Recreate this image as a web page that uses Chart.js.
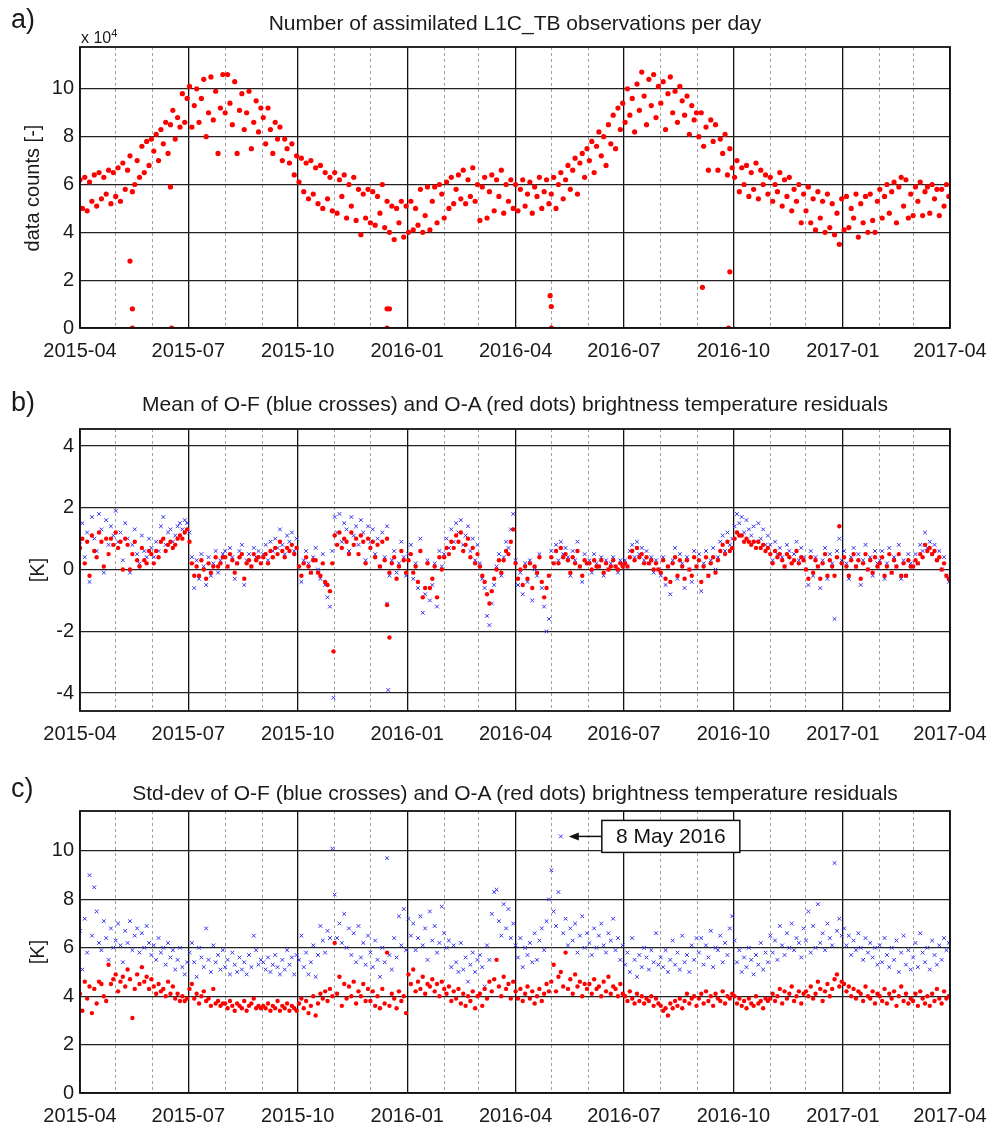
<!DOCTYPE html>
<html>
<head>
<meta charset="utf-8">
<script src="https://cdn.jsdelivr.net/npm/chart.js@4.4.0/dist/chart.umd.min.js"></script>
<style>
  body { margin: 0; width: 992px; height: 1129px; position: relative; overflow: hidden; background: #fff;
         font-family: "Liberation Sans", Arial, sans-serif; color: #1a1a1a; }
  canvas { position: absolute; left: 0; }
  .lbl { position: absolute; white-space: nowrap; }
  .ttl { position: absolute; left: 80px; width: 870px; text-align: center; font-size: 21px; line-height: 21px; white-space: nowrap; }
  .panel { font-size: 27px; line-height: 27px; left: 11px; }
  .ylab { font-size: 20px; line-height: 20px; transform: translate(-50%, -50%) rotate(-90deg); }
</style>
</head>
<body>
<canvas id="chartA" width="992" height="369" style="top:0"></canvas>
<canvas id="chartB" width="992" height="347" style="top:405px"></canvas>
<canvas id="chartC" width="992" height="339" style="top:790px"></canvas>

<div class="lbl panel" style="top:6px">a)</div>
<div class="ttl" style="top:12px">Number of assimilated L1C_TB observations per day</div>
<div class="lbl" style="left:81px;top:25px;font-size:16px;line-height:16px">x 10<sup style="font-size:11px">4</sup></div>
<div class="lbl ylab" style="left:32px;top:188px">data counts [-]</div>

<div class="lbl panel" style="top:389px">b)</div>
<div class="ttl" style="top:393px">Mean of O-F (blue crosses) and O-A (red dots) brightness temperature residuals</div>
<div class="lbl ylab" style="left:37px;top:570px">[K]</div>

<div class="lbl panel" style="top:775px">c)</div>
<div class="ttl" style="top:782px">Std-dev of O-F (blue crosses) and O-A (red dots) brightness temperature residuals</div>
<div class="lbl ylab" style="left:37px;top:952px">[K]</div>

<script>
// time axis: every series is sampled every STEP days starting 2015-04-01
const START = Date.UTC(2015, 3, 1);
const STEP = 2;
const quarterLabels = ['2015-04', '2015-07', '2015-10', '2016-01', '2016-04', '2016-07', '2016-10', '2017-01', '2017-04'];

// (a) assimilated observations per day, in units of 10^4
const obsCount = [
  6.2,5.0,6.3,4.9,6.1,5.3,6.4,5.1,6.5,5.4,6.3,5.6,6.6,5.2,6.5,
  5.5,6.7,5.3,6.9,5.8,6.6,7.2,5.7,6.0,7.0,6.3,7.6,6.5,7.8,6.8,7.9,
  7.4,8.1,7.0,8.3,7.7,8.6,7.3,8.5,9.1,7.9,8.8,8.4,9.8,8.6,9.6,
  10.1,8.4,9.3,10.0,8.6,9.6,10.4,8.0,9.0,10.5,8.7,9.9,7.3,9.2,10.6,
  9.0,10.6,9.4,8.5,10.3,7.3,9.1,9.8,8.3,9.0,9.9,7.5,8.6,9.5,8.2,9.2,
  8.8,7.7,9.2,8.3,7.3,8.6,7.9,8.4,7.0,7.9,7.5,6.9,7.7,6.4,7.2,
  6.1,7.1,5.7,6.9,5.4,7.0,5.6,6.7,5.2,6.8,5.0,6.5,5.4,6.3,4.9,
  6.5,4.8,6.2,5.5,6.4,4.6,6.0,5.1,6.3,4.5,5.8,3.9,5.6,4.6,5.8,
  4.4,5.7,4.3,5.5,4.8,6.0,4.2,5.3,4.0,5.1,3.7,5.0,4.4,5.3,3.8,5.1,
  4.0,5.3,4.1,5.0,4.3,5.8,4.0,4.7,5.9,4.1,5.3,5.9,4.4,6.0,5.6,
  4.6,6.1,5.0,6.3,5.2,5.8,6.4,5.4,6.6,5.2,6.2,5.5,6.7,5.3,6.0,
  4.5,5.9,6.3,4.6,5.7,6.4,4.9,6.2,5.5,6.6,4.8,6.0,5.3,6.2,5.0,
  6.0,4.9,5.8,6.2,5.1,5.6,6.1,4.8,5.9,5.5,6.3,5.0,5.7,6.2,5.2,
  5.6,6.3,5.0,6.0,6.5,5.4,6.2,6.8,5.8,6.6,7.1,5.6,6.9,7.3,6.3,7.5,
  7.0,7.8,6.5,7.6,8.2,7.2,8.0,6.8,8.5,7.7,8.9,7.5,9.2,8.3,9.4,
  8.6,10.0,8.9,9.6,8.2,10.2,9.1,10.7,9.7,8.5,10.4,9.3,10.6,8.8,10.1,
  9.4,10.3,8.3,9.8,10.5,9.0,9.9,8.6,10.1,9.5,8.9,9.7,8.1,9.3,8.7,9.0,
  8.0,9.0,7.6,8.4,6.6,8.7,7.8,8.5,6.6,7.9,7.3,8.1,6.4,7.5,6.7,
  6.3,7.0,5.7,6.7,6.0,6.8,5.5,6.5,5.8,6.9,5.4,6.6,6.0,6.4,5.6,
  6.3,5.3,6.0,5.7,6.5,5.1,6.2,5.5,6.3,4.9,5.8,5.3,6.0,4.4,5.6,
  4.9,5.9,4.4,5.4,4.1,5.7,4.6,5.3,4.0,5.6,4.2,5.2,3.9,4.8,3.5,5.4,
  4.1,5.5,4.2,5.0,4.6,5.6,3.8,5.2,4.4,5.5,4.0,5.6,4.5,4.0,5.3,
  5.8,4.6,5.5,6.0,4.8,5.7,6.1,4.4,5.9,6.3,5.1,6.2,4.6,5.6,
  4.7,5.9,5.3,6.1,4.7,5.7,5.9,4.8,6.0,5.4,5.8,4.7,5.8,5.1,6.0,5.5
];
// (a) outage days (days after 2015-04-01) and their counts
const obsLowDays = [42, 44, 44, 76, 77, 258, 260, 258, 395, 396, 396, 523, 545, 546];
const obsLowVals = [2.8, 0.8, 0, 5.9, 0, 0.8, 0.8, 0, 1.35, 0.9, 0, 1.7, 0, 2.35];

// (b) mean O-F (blue) and O-A (red) residuals [K]
const meanOF = [
  0.9,1.5,0.4,1.2,-0.4,1.7,1.0,0.6,1.8,1.3,-0.1,1.6,0.8,1.4,1.1,
  1.9,0.9,1.2,0.3,1.5,1.0,-0.1,0.8,1.3,0.5,0.2,1.1,0.6,0.4,1.0,0.7,
  0.4,0.9,0.6,1.4,1.7,0.8,1.2,1.3,0.9,1.1,1.4,1.5,1.3,1.6,1.5,
  1.2,0.4,-0.6,0.3,-0.3,0.5,0.1,-0.5,0.4,-0.2,0.2,0.6,-0.1,0.3,0.5,
  0.6,0.1,0.7,0.4,-0.3,0.2,0.6,0.8,-0.5,0.3,0.5,0.1,0.7,0.4,0.6,0.2,
  0.5,0.8,0.3,0.9,0.6,1.0,0.7,1.3,0.8,0.5,1.1,0.9,1.2,0.6,1.0,
  0.1,-0.4,0.3,0.6,0.2,-0.1,0.4,0.7,0.0,-0.3,0.5,-0.5,-0.9,-1.2,0.6,
  1.7,1.2,1.8,0.9,1.5,1.3,0.6,1.7,1.1,1.4,0.8,1.6,1.2,0.3,1.4,
  0.9,1.3,0.5,1.0,0.1,1.2,0.4,1.4,-0.2,0.3,0.6,-0.1,0.2,0.9,0.4,-0.2,
  0.5,0.8,-0.3,0.2,-0.6,1.0,-1.4,-0.8,0.3,-1.0,-0.5,0.2,-1.2,0.6,0.1,
  0.5,1.0,0.7,1.3,0.9,1.5,1.2,1.6,0.8,1.1,1.4,0.6,1.0,0.3,0.8,
  0.2,-0.3,-0.6,-1.5,-1.8,-1.1,-0.5,0.1,0.5,-0.2,0.4,0.9,0.7,1.3,1.8,
  0.3,-0.5,-0.1,-0.8,0.2,-0.4,0.3,-1.0,0.0,-0.2,0.5,-0.6,-1.2,-2.0,-1.6,
  0.6,0.2,0.8,0.3,0.9,0.5,0.7,0.4,-0.2,0.6,0.3,0.9,0.1,-0.4,0.5,0.2,
  0.3,-0.1,0.5,0.2,0.1,0.4,-0.2,0.3,0.0,0.2,0.4,0.1,-0.1,0.3,0.2,
  0.3,0.1,0.6,0.8,0.4,0.9,0.5,0.7,0.3,0.6,0.2,0.4,-0.1,0.3,0.0,
  -0.2,0.4,-0.5,0.1,-0.8,0.3,0.7,-0.3,0.5,0.2,-0.6,0.4,0.0,-0.4,0.6,0.1,
  0.5,-0.7,0.2,0.6,-0.2,0.3,0.7,0.0,0.4,0.9,1.1,0.6,1.2,0.8,1.0,
  1.4,1.8,1.5,1.7,1.2,1.6,1.3,1.1,1.4,0.9,1.5,1.0,1.3,0.8,1.1,
  0.8,0.3,0.9,0.5,0.7,0.4,0.1,0.8,0.6,0.2,0.5,0.9,0.3,0.7,0.4,
  0.0,-0.5,0.6,-0.2,0.4,0.1,-0.6,0.3,0.7,-0.3,0.5,0.2,-1.6,0.6,1.0,0.3,
  0.6,0.2,-0.3,0.4,0.7,0.1,0.5,-0.5,0.3,0.8,0.0,0.4,-0.2,0.6,0.2,
  0.3,0.6,-0.3,0.2,0.7,-0.1,0.4,0.1,0.8,-0.3,0.3,-0.2,0.5,0.2,
  0.1,0.5,0.2,0.8,0.6,1.2,0.7,0.9,0.5,0.8,0.3,0.6,0.0,0.4,-0.2,-0.4
];
const meanOA = [
  0.7,1.0,0.2,0.9,-0.2,1.1,0.6,0.4,1.2,0.9,0.1,1.0,0.5,1.0,0.8,
  1.2,0.7,0.9,0.0,1.0,0.8,0.0,0.5,0.9,0.3,0.1,0.7,0.3,0.2,0.6,0.5,
  0.2,0.6,0.4,0.9,1.0,0.6,0.8,0.9,0.7,0.8,1.0,1.1,1.0,1.2,1.3,
  0.9,0.2,-0.2,0.1,-0.2,0.3,0.0,-0.3,0.2,-0.1,0.1,0.4,0.1,0.2,0.4,
  0.4,0.1,0.5,0.3,-0.1,0.2,0.4,0.5,-0.3,0.2,0.3,0.1,0.5,0.3,0.4,0.2,
  0.4,0.5,0.2,0.6,0.4,0.7,0.5,0.9,0.6,0.4,0.7,0.6,0.8,0.5,0.7,
  0.1,-0.2,0.2,0.4,0.1,-0.1,0.3,0.3,-0.1,-0.2,0.2,-0.4,-0.5,-0.7,0.2,
  1.1,0.8,1.2,0.7,1.0,0.9,0.5,1.2,0.8,1.0,0.5,1.1,0.9,0.2,1.0,
  0.7,0.9,0.4,0.8,0.1,0.9,0.3,1.0,-0.1,0.2,0.4,-0.3,0.1,0.6,0.3,-0.1,
  0.3,0.5,-0.1,0.1,-0.4,0.6,-0.9,-0.6,0.2,-0.6,-0.3,0.1,-0.9,0.4,0.0,
  0.4,0.7,0.5,0.9,0.7,1.1,0.9,1.2,0.6,0.8,1.0,0.4,0.7,0.2,0.5,
  0.1,-0.2,-0.4,-0.8,-1.1,-0.7,-0.3,0.0,0.3,-0.1,0.3,0.6,0.5,0.9,1.3,
  0.2,-0.3,0.0,-0.5,0.1,-0.3,0.2,-0.6,0.1,-0.1,0.4,-0.4,-0.9,-0.6,-0.2,
  0.4,0.2,0.6,0.2,0.7,0.4,0.5,0.3,-0.1,0.4,0.2,0.6,0.1,-0.2,0.3,0.2,
  0.2,0.0,0.3,0.1,0.1,0.3,-0.1,0.2,0.0,0.1,0.3,0.1,0.0,0.2,0.1,
  0.2,0.1,0.4,0.6,0.3,0.7,0.4,0.5,0.2,0.4,0.2,0.3,0.0,0.2,0.0,
  -0.1,0.3,-0.3,0.1,-0.4,0.2,0.4,-0.2,0.3,0.1,-0.3,0.3,0.0,-0.2,0.4,0.1,
  0.3,-0.4,0.1,0.4,-0.2,0.2,0.4,-0.1,0.3,0.6,0.8,0.5,0.9,0.6,0.7,
  1.0,1.2,1.1,1.1,0.9,1.0,0.9,0.8,0.9,0.7,0.9,0.7,0.8,0.6,0.7,
  0.5,0.2,0.6,0.4,0.5,0.3,0.1,0.5,0.4,0.2,0.3,0.6,0.2,0.4,0.3,
  0.0,-0.3,0.4,-0.1,0.3,0.1,-0.3,0.2,0.5,-0.2,0.3,0.1,-0.2,0.4,1.4,0.2,
  0.4,0.1,-0.2,0.3,0.5,0.1,0.3,-0.3,0.2,0.5,0.0,0.3,-0.1,0.4,0.1,
  0.2,0.4,-0.2,0.1,0.5,-0.1,0.3,0.1,0.5,-0.2,0.2,-0.2,0.3,0.1,
  0.1,0.3,0.2,0.5,0.4,0.8,0.6,0.7,0.5,0.6,0.3,0.4,0.0,0.2,-0.2,-0.3
];
// (b) isolated outliers
const meanOFOutDays = [213, 258, 259];
const meanOFOutVals = [-4.15, -1.1, -3.9];
const meanOAOutDays = [213, 258, 260];
const meanOAOutVals = [-2.65, -1.15, -2.2];

// (c) std-dev of O-F (blue) and O-A (red) residuals [K]
const stdOF = [
  6.7,5.1,7.2,5.8,9.0,6.5,8.5,7.5,6.2,5.9,7.1,6.4,5.5,6.8,6.0,
  6.3,7.0,6.1,5.4,6.7,6.2,7.1,5.9,6.5,6.8,5.8,6.6,6.0,6.9,6.2,5.7,
  6.1,5.5,6.4,5.8,6.0,5.3,6.2,5.6,5.9,5.1,5.5,6.0,5.2,4.9,5.4,
  5.8,6.2,5.4,4.8,6.0,5.6,5.2,6.8,5.5,5.0,6.1,5.4,5.7,5.1,5.9,
  5.2,5.5,4.9,5.8,5.3,5.0,5.6,5.1,5.4,4.9,5.7,5.2,6.5,5.9,5.3,5.5,
  5.4,5.1,5.6,5.0,5.3,5.7,5.2,4.9,5.5,5.1,5.9,5.3,5.6,4.9,5.7,
  5.5,6.5,5.2,5.8,4.9,5.4,6.1,4.8,5.7,6.9,6.3,5.8,6.7,6.4,10.1,
  8.2,6.4,7.0,6.2,7.4,6.0,6.8,5.7,6.6,5.4,6.9,5.6,6.2,5.3,6.5,
  5.8,5.2,6.3,5.5,4.8,6.0,5.4,9.7,5.7,5.1,6.4,5.6,7.3,6.1,7.6,5.9,
  7.2,6.5,7.0,5.9,6.4,7.3,6.1,6.8,5.5,7.5,6.3,6.9,5.8,6.2,7.7,
  6.6,6.0,6.3,5.2,6.1,5.4,5.0,6.2,5.1,5.6,4.6,5.3,5.8,5.0,5.5,
  5.7,5.2,4.4,6.1,5.5,7.4,8.3,8.4,7.1,6.5,7.8,6.8,7.6,6.4,7.0,
  6.1,5.6,6.4,5.2,6.0,5.7,6.2,5.4,6.6,5.5,6.3,6.8,5.9,7.1,8.0,
  9.2,7.5,6.9,8.3,10.6,6.6,7.2,6.1,6.8,6.3,7.0,5.8,6.5,7.3,6.0,6.6,
  6.2,5.7,6.8,6.0,6.5,7.0,6.1,5.8,6.6,6.3,7.2,5.9,6.4,5.5,6.1,
  5.3,5.8,5.0,6.4,5.5,4.8,5.7,5.2,6.0,5.6,5.1,5.9,5.4,6.6,5.3,
  5.6,5.2,5.9,5.0,5.5,6.3,5.3,5.8,5.1,6.5,5.4,5.7,5.0,6.1,5.5,6.4,
  5.8,6.4,5.3,6.1,5.6,6.7,5.2,6.0,5.9,6.5,5.4,6.2,5.7,6.8,7.3,
  6.3,5.4,5.9,5.0,5.6,5.2,6.0,5.5,4.9,5.7,5.3,6.2,5.1,5.8,5.4,
  6.5,5.8,6.3,5.5,6.9,6.1,5.7,6.6,6.0,7.0,5.9,6.4,6.2,5.6,6.8,
  6.3,7.5,5.8,6.9,6.0,7.8,6.2,6.6,5.9,7.0,6.4,6.1,9.5,6.7,7.2,6.5,
  6.8,6.1,6.5,5.7,6.3,5.9,6.6,6.0,5.5,6.4,5.8,6.2,5.6,6.0,5.3,
  6.1,5.4,6.4,5.7,5.2,6.0,5.5,6.3,5.0,5.8,6.5,5.3,5.9,5.1,
  5.6,6.2,5.2,6.6,5.8,5.4,6.0,5.1,6.3,5.7,5.3,6.1,5.5,6.4,5.9,6.2
];
const stdOA = [
  4.1,3.4,4.6,3.9,4.4,3.3,4.3,3.7,4.6,4.5,4.0,3.8,5.3,4.5,4.7,
  4.9,4.2,4.6,4.8,4.4,5.1,4.7,3.1,4.3,4.9,4.5,5.2,4.6,4.8,4.3,4.7,
  4.4,4.1,4.5,4.2,4.3,4.0,4.6,4.1,4.4,3.9,4.1,3.8,4.0,3.8,3.9,
  4.3,4.5,3.9,4.1,3.7,4.0,4.2,3.8,3.9,3.6,4.3,3.7,3.8,3.6,3.7,
  3.7,3.5,3.8,3.6,3.4,3.7,3.6,3.5,3.8,3.4,3.6,3.7,3.9,3.5,3.6,3.5,
  3.6,3.5,3.7,3.4,3.6,3.5,3.8,3.4,3.6,3.5,3.7,3.4,3.6,3.5,3.4,
  3.7,3.9,3.5,3.8,3.3,3.6,4.0,3.2,3.7,4.1,3.9,4.2,3.8,4.3,4.0,
  6.2,4.1,4.8,3.6,4.5,3.9,4.4,4.0,4.6,3.7,4.2,4.0,4.5,3.8,4.3,
  3.8,4.2,3.6,4.0,3.5,4.3,3.7,5.8,3.6,4.1,3.9,3.5,4.2,3.8,4.0,3.3,
  4.9,4.5,5.1,4.2,4.6,4.3,4.8,4.1,4.5,4.4,4.7,4.2,4.5,4.0,4.6,
  4.3,4.1,4.4,3.8,4.2,3.9,4.3,3.7,4.1,3.6,4.0,3.8,4.2,3.5,4.0,
  4.1,3.6,4.3,3.9,4.6,4.2,4.7,5.5,4.4,4.0,4.8,4.3,4.5,3.9,4.6,
  4.2,3.9,4.3,3.8,4.1,4.4,3.9,4.2,3.7,4.0,4.3,3.8,4.1,4.5,4.2,
  4.6,5.3,4.2,4.8,5.0,4.4,5.8,4.3,4.7,4.1,4.9,4.4,4.6,4.0,4.5,4.3,
  4.5,4.1,4.7,4.3,4.4,4.0,4.6,4.2,4.8,4.1,4.4,4.3,4.0,4.5,4.1,
  4.0,3.8,4.2,3.9,3.7,4.1,3.8,4.0,3.7,3.9,3.8,4.0,3.6,3.9,3.7,
  3.6,3.4,3.5,3.2,3.7,3.5,3.8,3.6,3.9,3.5,3.8,4.1,3.7,3.9,4.0,3.6,
  3.9,4.1,3.7,4.2,3.8,4.0,3.6,4.1,3.9,3.8,4.2,3.7,4.0,3.9,4.1,
  4.0,3.7,3.9,3.6,3.8,3.5,3.9,3.7,3.6,4.0,3.7,3.8,3.5,3.9,3.8,
  3.9,4.1,3.8,4.0,4.3,3.7,4.2,3.9,4.1,4.4,3.8,4.0,4.2,3.7,4.1,
  4.2,4.0,4.4,3.9,4.1,4.6,4.3,3.8,4.2,4.5,4.0,4.3,4.7,4.9,4.4,4.6,
  4.5,4.2,4.4,4.0,4.3,3.9,4.2,4.1,3.8,4.4,4.0,3.9,4.2,3.7,4.1,
  4.0,3.8,4.3,3.7,4.1,3.9,4.2,3.6,4.0,4.4,3.8,4.1,3.7,3.9,
  3.8,4.1,3.6,4.2,3.9,3.7,4.0,3.6,4.1,3.8,4.3,3.9,3.7,4.2,3.9,4.0
];
const noteText = '8 May 2016';

// ---- helpers ----
function dayOf(y, m, d) { return (Date.UTC(y, m - 1, d) - START) / 864e5; }
const quarterDays = quarterLabels.map(s => dayOf(+s.slice(0, 4), +s.slice(5), 1));
const monthDays = [];
for (let i = 0; i <= 24; i++) monthDays.push(dayOf(2015, 4 + i, 1));
const minorDays = monthDays.filter(d => !quarterDays.includes(d));
const LAST = quarterDays[quarterDays.length - 1];

const toPts = arr => arr.map((v, i) => ({ x: i * STEP, y: v }));
const zipPts = (days, vals) => days.map((d, i) => ({ x: d, y: vals[i] }));

Chart.defaults.font.family = '"Liberation Sans", Arial, sans-serif';
Chart.defaults.font.size = 20;
Chart.defaults.color = '#1a1a1a';

const RED = '#ff0000';
const BLUE = 'rgb(50,50,245)';

const framePlugin = {
  id: 'frame',
  afterDatasetsDraw(chart) {
    const { ctx, chartArea: a } = chart;
    ctx.save();
    ctx.strokeStyle = '#111';
    ctx.lineWidth = 1.8;
    ctx.strokeRect(a.left, a.top, a.right - a.left, a.bottom - a.top);
    ctx.restore();
  }
};

function dots(data, r) {
  return { data, pointStyle: 'circle', pointRadius: r, backgroundColor: RED, borderWidth: 0 };
}
function crosses(data) {
  return { data, pointStyle: 'crossRot', pointRadius: 2.6, borderColor: BLUE, borderWidth: 1 };
}

// keep the plot box fixed: no extra side padding for the end tick labels
function fixX(h) {
  return s => { s.height = h; s.paddingLeft = 0; s.paddingRight = 0; };
}

function makeChart(id, datasets, yMin, yMax, yTicks, padTop, xHeight, extra) {
  return new Chart(document.getElementById(id), {
    type: 'scatter',
    data: { datasets },
    options: {
      responsive: false,
      animation: false,
      events: [],
      layout: { padding: { left: 0, right: 42, top: padTop, bottom: 0 } },
      plugins: { legend: { display: false }, tooltip: { enabled: false } },
      scales: {
        xm: {
          type: 'linear', position: 'bottom', min: 0, max: LAST,
          afterBuildTicks: s => { s.ticks = minorDays.map(v => ({ value: v })); },
          afterFit: fixX(0),
          ticks: { display: false },
          grid: { color: '#a0a0a0', lineWidth: 1, drawTicks: false },
          border: { display: false, dash: [3, 3] }
        },
        x: {
          type: 'linear', position: 'bottom', min: 0, max: LAST,
          afterBuildTicks: s => { s.ticks = quarterDays.map(v => ({ value: v })); },
          afterFit: fixX(xHeight),
          ticks: {
            padding: 11, maxRotation: 0, autoSkip: false,
            callback: v => quarterLabels[quarterDays.indexOf(v)]
          },
          grid: { color: '#111', lineWidth: 1.3, drawTicks: false },
          border: { display: false }
        },
        y: {
          min: yMin, max: yMax,
          afterBuildTicks: s => { s.ticks = yTicks.map(v => ({ value: v })); },
          afterFit: s => { s.width = 80; s.paddingTop = 0; s.paddingBottom = 0; },
          ticks: { padding: 6, callback: v => String(v) },
          grid: { color: '#222', lineWidth: 1.3, drawTicks: false },
          border: { display: false }
        }
      }
    },
    plugins: [framePlugin].concat(extra || [])
  });
}

// (a)
makeChart('chartA', [
  dots(toPts(obsCount), 2.6),
  dots(zipPts(obsLowDays, obsLowVals), 2.6)
], 0, 11.75, [0, 2, 4, 6, 8, 10], 47, 41);

// (b)
makeChart('chartB', [
  dots(toPts(meanOA), 2.2),
  dots(zipPts(meanOAOutDays, meanOAOutVals), 2.2),
  crosses(toPts(meanOF)),
  crosses(zipPts(meanOFOutDays, meanOFOutVals))
], -4.58, 4.55, [-4, -2, 0, 2, 4], 24, 41);

// (c) with the "8 May 2016" callout pointing at the largest O-F std-dev
const notePlugin = {
  id: 'note',
  afterDraw(chart) {
    const i = stdOF.indexOf(Math.max(...stdOF));
    const px = chart.scales.x.getPixelForValue(i * STEP);
    const py = chart.scales.y.getPixelForValue(stdOF[i]);
    const { ctx } = chart;
    const tipX = px + 8, boxX = px + 41, boxW = 138, boxH = 32;
    ctx.save();
    ctx.strokeStyle = '#111';
    ctx.fillStyle = '#111';
    ctx.lineWidth = 1.5;
    ctx.beginPath(); ctx.moveTo(boxX, py); ctx.lineTo(tipX + 3, py); ctx.stroke();
    ctx.beginPath(); ctx.moveTo(tipX, py); ctx.lineTo(tipX + 10, py - 4); ctx.lineTo(tipX + 10, py + 4); ctx.closePath(); ctx.fill();
    ctx.fillStyle = '#fff';
    ctx.fillRect(boxX, py - boxH / 2, boxW, boxH);
    ctx.strokeRect(boxX, py - boxH / 2, boxW, boxH);
    ctx.fillStyle = '#111';
    ctx.font = '21px "Liberation Sans", Arial, sans-serif';
    ctx.textAlign = 'center';
    ctx.textBaseline = 'middle';
    ctx.fillText(noteText, boxX + boxW / 2, py + 1);
    ctx.restore();
  }
};
makeChart('chartC', [
  dots(toPts(stdOA), 2.2),
  crosses(toPts(stdOF))
], 0, 11.65, [0, 2, 4, 6, 8, 10], 21, 36, [notePlugin]);
</script>
</body>
</html>
